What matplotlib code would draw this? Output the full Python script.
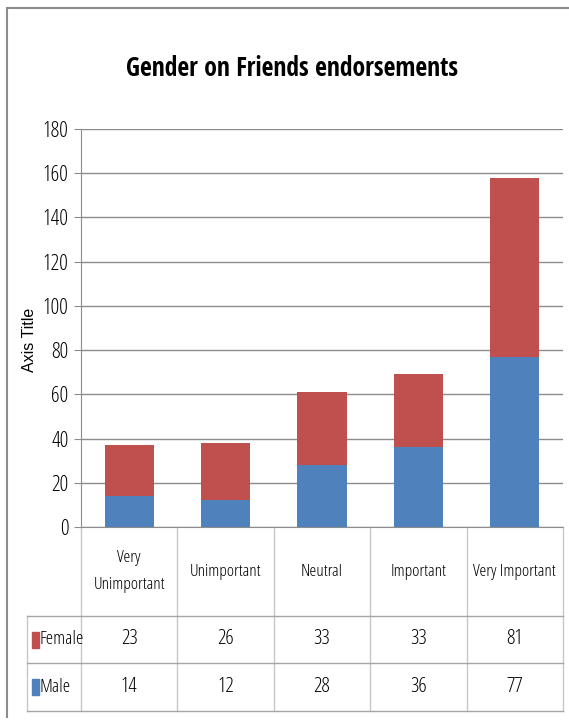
import matplotlib
matplotlib.use("Agg")
import matplotlib.pyplot as plt
from matplotlib.patches import Rectangle
from matplotlib.lines import Line2D
import matplotlib.transforms as mtransforms

plt.rcParams['font.family'] = ['Open Sans', 'DejaVu Sans']
plt.rcParams['font.stretch'] = 'condensed'

categories = ["Very\nUnimportant", "Unimportant", "Neutral", "Important", "Very Important"]
female = [23, 26, 33, 33, 81]
male = [14, 12, 28, 36, 77]
series_names = ["Female", "Male"]
yticks = [0, 20, 40, 60, 80, 100, 120, 140, 160, 180]

blue = "#4F81BD"
red = "#C0504D"

W, H = 569, 722
fig = plt.figure(figsize=(W / 100, H / 100), dpi=100)

fig.add_artist(Line2D([7 / W, 7 / W], [1 - 8 / H, 1 - 717 / H], transform=fig.transFigure,
                      color="#8c8c8c", lw=1.5))
fig.add_artist(Line2D([7 / W, 1.0], [1 - 8 / H, 1 - 8 / H], transform=fig.transFigure,
                      color="#8c8c8c", lw=1.5))

left, right = 81 / W, 563 / W
top, bottom = 1 - 129 / H, 1 - 527 / H
ax = fig.add_axes([left, bottom, right - left, top - bottom])

x = list(range(len(categories)))
ax.bar(x, male, width=0.51, color=blue, zorder=3)
ax.bar(x, female, width=0.51, bottom=male, color=red, zorder=3)

ax.set_xlim(-0.5, len(categories) - 0.5)
ax.set_ylim(0, 180)
ax.set_yticks(yticks)
ax.set_yticklabels([str(v) for v in yticks], fontsize=15.5)
ax.yaxis.grid(True, color="#8c8c8c", lw=1)
ax.set_axisbelow(True)
ax.set_xticks([])
for s in ["top", "right"]:
    ax.spines[s].set_visible(False)
ax.spines["left"].set_color("#8c8c8c")
ax.spines["bottom"].set_color("#8c8c8c")
ax.tick_params(axis="y", length=5, color="#8c8c8c", pad=4)

fig.text(30 / W, 1 - 340 / H, "Axis Title", family="Liberation Sans", stretch="normal",
         fontsize=11.5, rotation=90, ha="center", va="center")

fig.text(292 / W, 1 - 69 / H, "Gender on Friends endorsements", ha="center", va="center",
         fontsize=18.5, fontweight="bold", family=["Open Sans Condensed", "DejaVu Sans"])

trans = mtransforms.blended_transform_factory(ax.transData, ax.transAxes)
ah = 527 - 129
def yf(py):
    return (527 - py) / ah

row_top = yf(527)
row_hdr = yf(616)
row_f = yf(663)
row_m = yf(711)
tab_left = -0.5 - (81 - 27) / ((563 - 81) / len(categories))
vcol = "#c8c8c8"
hcol = "#a6a6a6"

for i in range(len(categories) + 1):
    xv = i - 0.5
    ax.add_line(Line2D([xv, xv], [row_top, row_m], transform=trans, color=vcol, lw=1,
                       clip_on=False))
ax.add_line(Line2D([tab_left, tab_left], [row_hdr, row_m], transform=trans, color=vcol, lw=1,
                   clip_on=False))
for yv in [row_hdr, row_f, row_m]:
    ax.add_line(Line2D([tab_left, len(categories) - 0.5], [yv, yv], transform=trans,
                       color=hcol, lw=1, clip_on=False))

for i, c in enumerate(categories):
    ax.text(i, (row_top + row_hdr) / 2, c, transform=trans, ha="center", va="center",
            fontsize=12.5, linespacing=1.85, clip_on=False)
    ax.text(i, (row_hdr + row_f) / 2, str(female[i]), transform=trans, ha="center",
            va="center", fontsize=15, clip_on=False)
    ax.text(i, (row_f + row_m) / 2, str(male[i]), transform=trans, ha="center",
            va="center", fontsize=15, clip_on=False)

for name, col, (y0, y1) in [(series_names[0], red, (row_hdr, row_f)),
                            (series_names[1], blue, (row_f, row_m))]:
    yc = (y0 + y1) / 2
    kh = 16 / ah
    ax.add_patch(Rectangle((tab_left + 0.055, yc - kh / 2), 0.065, kh, transform=trans,
                           color=col, clip_on=False))
    ax.text(tab_left + 0.13, yc, name, transform=trans, ha="left", va="center",
            fontsize=13.5, clip_on=False)

fig.savefig("out.png", dpi=100)
